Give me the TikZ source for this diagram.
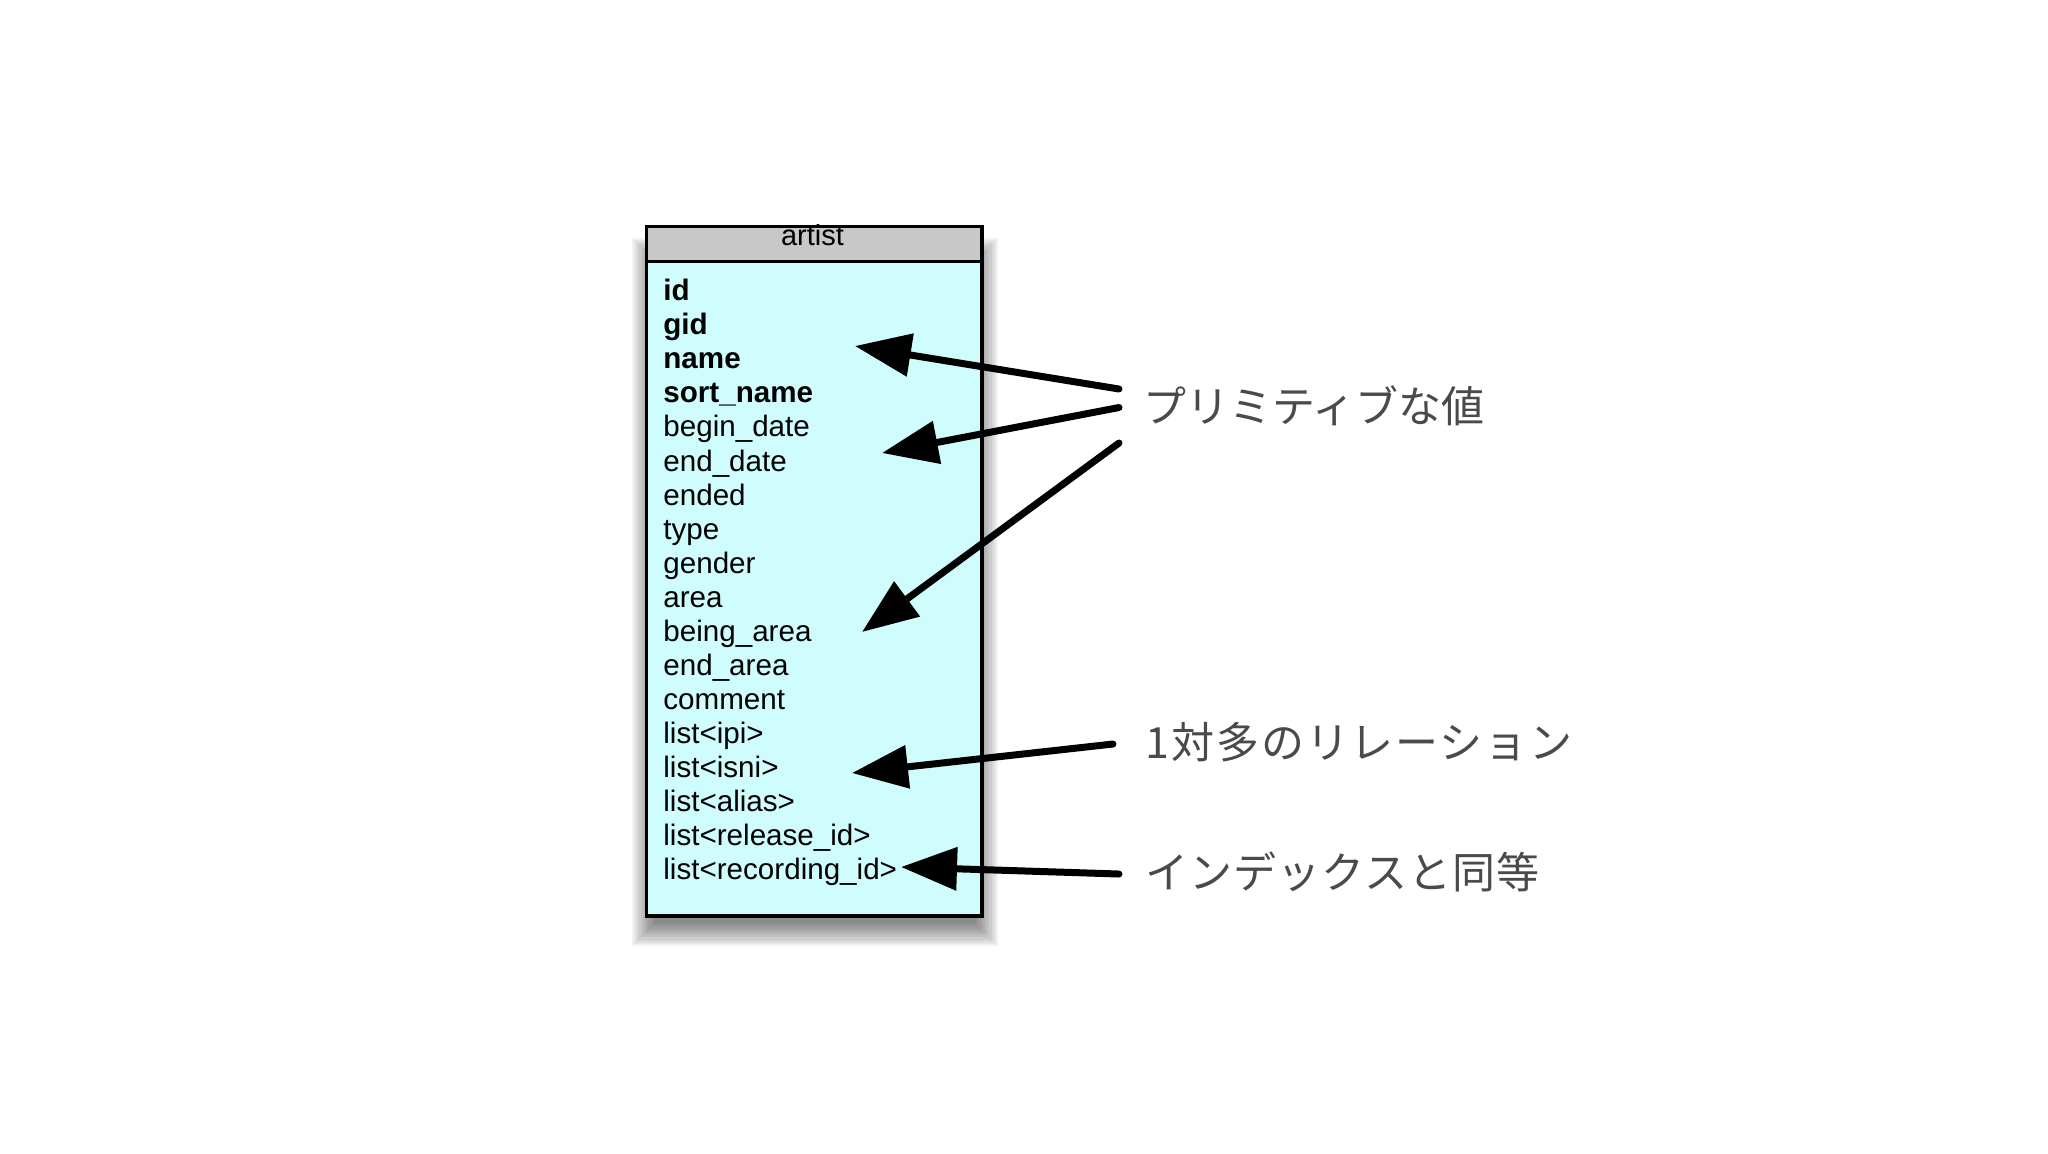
\documentclass[tikz,border=0pt]{standalone}
\usepackage{fontspec}
\setmainfont{Liberation Sans}
\newfontfamily\cjk{Noto Sans CJK JP}
\usetikzlibrary{arrows.meta}
\definecolor{boxfill}{HTML}{CFFCFC}
\definecolor{headfill}{HTML}{C8C8C8}
\definecolor{labelgray}{HTML}{4A4A4A}
\tikzset{
  tablebox/.style={draw=black, line width=1.75pt, fill=boxfill, anchor=north west,
    minimum width=167.75pt, minimum height=344.75pt, inner sep=0pt},
  headbox/.style={draw=black, line width=1.75pt, fill=headfill, anchor=north west,
    minimum width=167.75pt, minimum height=17.5pt, inner sep=0pt},
  shadowlayer/.style={fill=black, fill opacity=0.05},
  rowtext/.style={anchor=base west, inner sep=0pt, font=\fontsize{14.8pt}{17pt}\selectfont},
  keytext/.style={rowtext, font=\fontsize{14.8pt}{17pt}\selectfont\bfseries},
  jplabel/.style={anchor=west, inner sep=0pt, text=labelgray, font=\cjk\fontsize{21.5pt}{24pt}\selectfont},
  bigarrow/.style={line width=3.5pt, line cap=round, -{Triangle[length=28pt,width=21pt]}}
}
\begin{document}
\begin{tikzpicture}[x=0.5pt,y=-0.5pt]
\useasboundingbox[fill=white] (0,0) rectangle (2048,1153);
\foreach \k in {1,...,11}{
  \fill[shadowlayer] ({656-2.2*\k},{262-2.2*\k}) rectangle ({974+2.2*\k},{922+2.2*\k});
}
\node[tablebox] (box) at (644.75,224.75) {};
\node[headbox] (head) at (644.75,224.75) {};
\node[anchor=base, inner sep=0pt, font=\fontsize{14.5pt}{17pt}\selectfont] (title) at (812.5,245) {artist};
\foreach \t [count=\i from 0] in {id,gid,name,sort\_name}{
  \node[keytext] (r\i) at (663,{300.7+34.07*\i}) {\t};
}
\foreach \t [count=\i from 4] in {begin\_date,end\_date,ended,type,gender,area,being\_area,end\_area,comment,list<ipi>,list<isni>,list<alias>,list<release\_id>,list<recording\_id>}{
  \node[rowtext] (r\i) at (663,{300.7+34.07*\i}) {\t};
}
\node[jplabel] (prim) at (1143,406) {プリミティブな値};
\node[jplabel, font=\cjk\fontsize{21.5pt}{24pt}\selectfont\addfontfeatures{LetterSpace=4.5}] (rel) at (1145,742) {1対多のリレーション};
\node[jplabel, font=\cjk\fontsize{21.5pt}{24pt}\selectfont\addfontfeatures{LetterSpace=2.5}] (idx) at (1145,872) {インデックスと同等};
\coordinate (t1) at (1119,389);
\coordinate (t2) at (1119,407.5);
\coordinate (t3) at (1119,443);
\coordinate (t4) at (1113,744);
\coordinate (t5) at (1119,874);
\coordinate (h1) at (855,346);
\coordinate (h2) at (882,453);
\coordinate (h3) at (862,632);
\coordinate (h4) at (852,773);
\coordinate (h5) at (901,867);
\draw[bigarrow] (t1) -- (h1);
\draw[bigarrow] (t2) -- (h2);
\draw[bigarrow] (t3) -- (h3);
\draw[bigarrow] (t4) -- (h4);
\draw[bigarrow] (t5) -- (h5);
\end{tikzpicture}
\end{document}
